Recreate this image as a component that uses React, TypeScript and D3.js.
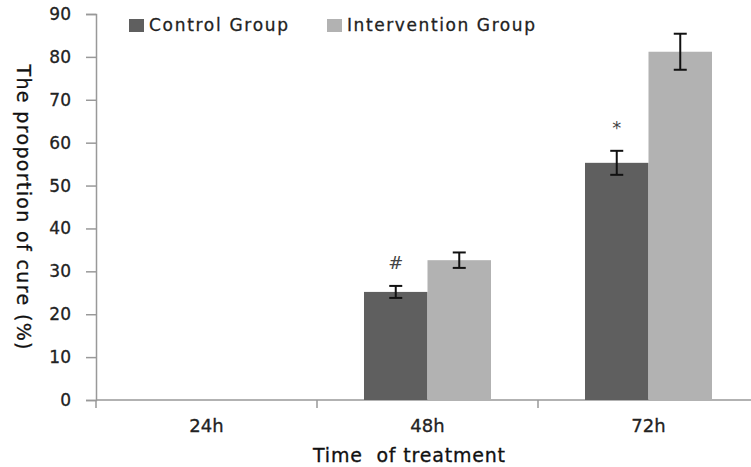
import { useEffect, useRef } from "react";
import * as d3 from "d3";

// Values.
const categories = ["24h", "48h", "72h"];
const groups = ["Control Group", "Intervention Group"];
const controlValues = [0, 25.2, 55.3];
const controlErrors = [0, 1.4, 2.8];
const interventionValues = [0, 32.6, 81.2];
const interventionErrors = [0, 1.8, 4.2];
const controlMarks = ["", "#", "*"];
const yTicks = [0, 10, 20, 30, 40, 50, 60, 70, 80, 90];

const colors = ["#5f5f5f", "#b2b2b2"];
const font = "'DejaVu Sans', Verdana, sans-serif";

export default function App() {
  const svgRef = useRef<SVGSVGElement>(null);

  useEffect(() => {
    document.body.style.margin = "0";
    const width = 751;
    const height = 467;
    const margin = { top: 14, right: -8, bottom: 67, left: 96 };

    const svg = d3.select(svgRef.current);
    svg.selectAll("*").remove();
    svg
      .attr("width", width)
      .attr("height", height)
      .style("background", "#fff")
      .style("display", "block");

    const x = d3
      .scaleBand()
      .domain(categories)
      .range([margin.left, width - margin.right])
      .paddingInner(0)
      .paddingOuter(0);

    const x1 = d3
      .scaleBand()
      .domain(groups)
      .range([0, x.bandwidth()])
      .paddingInner(0)
      .paddingOuter(0.74);

    const y = d3
      .scaleLinear()
      .domain([0, 90])
      .range([height - margin.bottom, margin.top]);

    const axisColor = "#999";

    // y axis
    const yAxis = svg
      .append("g")
      .attr("transform", `translate(${margin.left},0)`)
      .call(d3.axisLeft(y).tickValues(yTicks).tickSize(10).tickPadding(15));
    yAxis.select(".domain").attr("stroke", axisColor).attr("stroke-width", 1.5);
    yAxis.selectAll(".tick line").attr("stroke", axisColor).attr("stroke-width", 1.5);
    yAxis
      .selectAll(".tick text")
      .attr("fill", "#222")
      .attr("stroke", "#222")
      .attr("stroke-width", 0.3)
      .style("font-family", font)
      .style("font-size", "17px");

    // x axis (category boundaries as ticks)
    const xAxisG = svg
      .append("g")
      .attr("transform", `translate(0,${y(0)})`);
    xAxisG
      .append("line")
      .attr("x1", margin.left)
      .attr("x2", width - margin.right)
      .attr("stroke", axisColor)
      .attr("stroke-width", 1.5);
    xAxisG
      .selectAll(".bound")
      .data(categories)
      .enter()
      .append("line")
      .attr("x1", (d) => x(d)!)
      .attr("x2", (d) => x(d)!)
      .attr("y1", 0)
      .attr("y2", 8)
      .attr("stroke", axisColor)
      .attr("stroke-width", 1.5);
    xAxisG
      .selectAll(".lbl")
      .data(categories)
      .enter()
      .append("text")
      .attr("x", (d) => x(d)! + x.bandwidth() / 2)
      .attr("y", 32)
      .attr("text-anchor", "middle")
      .attr("fill", "#222")
      .attr("stroke", "#222")
      .attr("stroke-width", 0.3)
      .style("font-family", font)
      .style("font-size", "18px")
      .text((d) => d);

    const series = [
      { name: groups[0], values: controlValues, errors: controlErrors },
      { name: groups[1], values: interventionValues, errors: interventionErrors },
    ];

    series.forEach((s, si) => {
      const rows = categories
        .map((c, i) => ({ cat: c, v: s.values[i], e: s.errors[i], i }))
        .filter((r) => r.v > 0);

      svg
        .append("g")
        .selectAll("rect")
        .data(rows)
        .enter()
        .append("rect")
        .attr("x", (d) => x(d.cat)! + x1(s.name)!)
        .attr("y", (d) => y(d.v))
        .attr("width", x1.bandwidth())
        .attr("height", (d) => y(0) - y(d.v))
        .attr("fill", colors[si]);

      // error bars
      const eg = svg.append("g").attr("stroke", "#111").attr("stroke-width", 2);
      rows.forEach((d) => {
        const cx = x(d.cat)! + x1(s.name)! + x1.bandwidth() / 2;
        eg.append("line")
          .attr("x1", cx)
          .attr("x2", cx)
          .attr("y1", y(d.v + d.e))
          .attr("y2", y(d.v - d.e));
        [d.v + d.e, d.v - d.e].forEach((yy) => {
          eg.append("line")
            .attr("x1", cx - 6.5)
            .attr("x2", cx + 6.5)
            .attr("y1", y(yy))
            .attr("y2", y(yy));
        });
      });
    });

    // significance marks over the control bars
    categories.forEach((c, i) => {
      if (!controlMarks[i]) return;
      svg
        .append("text")
        .attr("x", x(c)! + x1(groups[0])! + x1.bandwidth() / 2)
        .attr("y", y(controlValues[i] + controlErrors[i]) - 17)
        .attr("text-anchor", "middle")
        .attr("fill", "#444")
        .style("font-family", font)
        .style("font-size", "18px")
        .text(controlMarks[i]);
    });

    // legend
    const legendX = [129, 327];
    const legendW = [139, 188];
    groups.forEach((g, i) => {
      svg
        .append("rect")
        .attr("x", legendX[i])
        .attr("y", 19)
        .attr("width", 15)
        .attr("height", 13)
        .attr("fill", colors[i]);
      svg
        .append("text")
        .attr("x", legendX[i] + 20)
        .attr("y", 31)
        .attr("fill", "#222")
        .attr("stroke", "#222")
        .attr("stroke-width", 0.3)
        .attr("textLength", legendW[i])
        .attr("lengthAdjust", "spacing")
        .style("font-family", font)
        .style("font-size", "17px")
        .text(g);
    });

    // axis titles
    svg
      .append("text")
      .attr("x", 409)
      .attr("y", 462)
      .attr("text-anchor", "middle")
      .attr("fill", "#111")
      .attr("stroke", "#111")
      .attr("stroke-width", 0.3)
      .attr("textLength", 192)
      .attr("lengthAdjust", "spacing")
      .style("font-family", font)
      .style("font-size", "19px")
      .style("white-space", "pre")
      .text("Time  of treatment");

    svg
      .append("text")
      .attr("transform", "rotate(90)")
      .attr("x", 207)
      .attr("y", -17)
      .attr("text-anchor", "middle")
      .attr("fill", "#111")
      .attr("stroke", "#111")
      .attr("stroke-width", 0.3)
      .attr("textLength", 285)
      .attr("lengthAdjust", "spacing")
      .style("font-family", font)
      .style("font-size", "19px")
      .text("The proportion of cure (%)");
  }, []);

  return <svg ref={svgRef}></svg>;
}
